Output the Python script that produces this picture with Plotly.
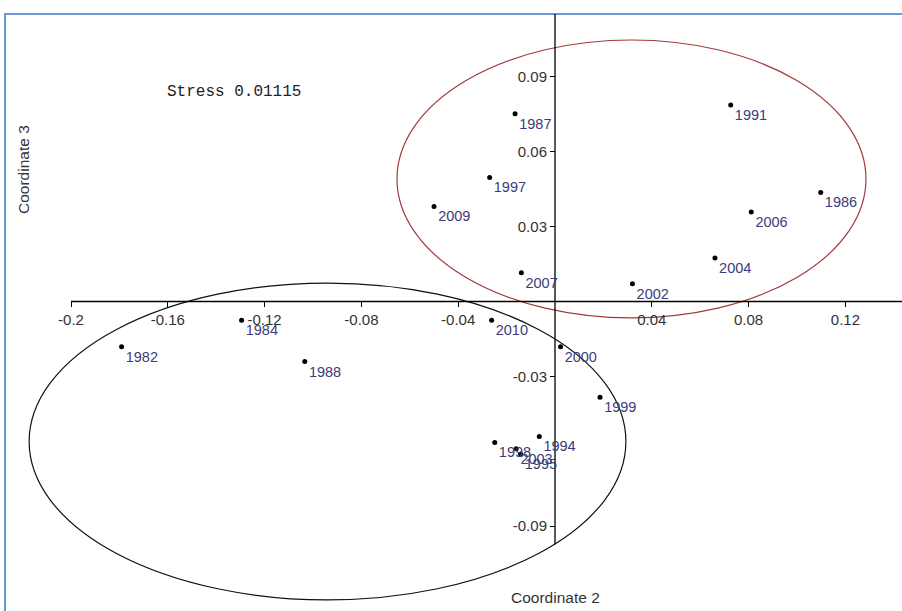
import plotly.graph_objects as go

# ---- data (Coordinate 2, Coordinate 3) ----
years = ["1991", "1986", "2006", "1987", "1997", "2009", "2007", "2002",
         "2010", "2000", "1982", "1984", "1988", "1999", "1998", "1994",
         "2003", "1995", "2004"]
coord2 = [0.0726, 0.1098, 0.0811, -0.0165, -0.0270, -0.0500, -0.0139, 0.0320,
          -0.0262, 0.0023, -0.1791, -0.1295, -0.1034, 0.0186, -0.0249, -0.0065,
          -0.0160, -0.0142, 0.0661]
coord3 = [0.0788, 0.0437, 0.0359, 0.0752, 0.0497, 0.0381, 0.0115, 0.0071,
          -0.0075, -0.0181, -0.0181, -0.0075, -0.0241, -0.0384, -0.0565, -0.0541,
          -0.0590, -0.0612, 0.0174]

x_ticks = [-0.2, -0.16, -0.12, -0.08, -0.04, 0.04, 0.08, 0.12]
x_tick_text = ["-0.2", "-0.16", "-0.12", "-0.08", "-0.04", "0.04", "0.08", "0.12"]
y_ticks = [0.09, 0.06, 0.03, -0.03, -0.09]
y_tick_text = ["0.09", "0.06", "0.03", "-0.03", "-0.09"]

# group ellipses: (center x, center y, radius x, radius y)
red_ellipse = (0.0316, 0.0491, 0.0969, 0.0557)
black_ellipse = (-0.0940, -0.0561, 0.1233, 0.0635)

stress_text = "Stress 0.01115"

# ---- view ----
W, H = 902, 611
x_range = [-0.22934, 0.14339]
y_range = [-0.12405, 0.12084]
x_axis_start = -0.2
y_axis_bottom = -0.0973
y_axis_top = 0.1152

label_color = "#3c3c78"
tick_font = dict(family="Liberation Sans, Arial, sans-serif", size=15, color="#333333")
title_font = dict(family="Liberation Sans, Arial, sans-serif", size=15.5, color="#333333")

fig = go.Figure()

# points
fig.add_trace(go.Scatter(
    x=coord2, y=coord3, mode="markers",
    marker=dict(color="black", size=5),
    hoverinfo="skip", showlegend=False, cliponaxis=False,
))
# year labels drawn on top of the points (invisible markers set the text offset)
fig.add_trace(go.Scatter(
    x=coord2, y=coord3, text=years, mode="markers+text",
    textposition="bottom right",
    marker=dict(size=5, color="rgba(0,0,0,0)"),
    textfont=dict(family="Liberation Sans, Arial, sans-serif", size=14.5, color=label_color),
    hoverinfo="skip", showlegend=False, cliponaxis=False,
))

shapes = []
for (cx, cy, rx, ry), col in [(red_ellipse, "#a33a3a"), (black_ellipse, "#111111")]:
    shapes.append(dict(type="circle", xref="x", yref="y",
                       x0=cx - rx, x1=cx + rx, y0=cy - ry, y1=cy + ry,
                       line=dict(color=col, width=1.2), layer="below"))
# axis lines through origin
shapes.append(dict(type="line", xref="x", yref="y", x0=x_axis_start, x1=x_range[1],
                   y0=0, y1=0, line=dict(color="black", width=1.3), layer="below"))
shapes.append(dict(type="line", xref="x", yref="y", x0=0, x1=0,
                   y0=y_axis_bottom, y1=y_axis_top, line=dict(color="black", width=1.3), layer="below"))
# window frame
shapes.append(dict(type="rect", xref="paper", yref="paper",
                   x0=5 / W, x1=1.2, y0=-0.2, y1=1 - 14 / H,
                   line=dict(color="#6c98d6", width=2), layer="below"))

x_pos = (0 - y_range[0]) / (y_range[1] - y_range[0])
y_pos = (0 - x_range[0]) / (x_range[1] - x_range[0])

fig.update_layout(
    width=W, height=H,
    margin=dict(l=0, r=0, t=0, b=0),
    paper_bgcolor="white", plot_bgcolor="white",
    shapes=shapes,
    xaxis=dict(range=x_range, anchor="free", position=x_pos, showgrid=False,
               zeroline=False, showline=False, ticks="outside", ticklen=5,
               tickcolor="black", tickwidth=1.2, tickvals=x_ticks, ticktext=x_tick_text,
               tickfont=tick_font, fixedrange=True),
    yaxis=dict(range=y_range, anchor="free", position=y_pos, showgrid=False,
               zeroline=False, showline=False, ticks="outside", ticklen=5,
               tickcolor="black", tickwidth=1.2, tickvals=y_ticks, ticktext=y_tick_text,
               tickfont=tick_font, fixedrange=True),
    annotations=[
        dict(text=stress_text, xref="paper", yref="paper", x=165 / W, y=1 - 92 / H,
             xanchor="left", yanchor="middle", showarrow=False,
             font=dict(family="Liberation Mono, Courier New, monospace", size=16, color="#222222")),
        dict(text="Coordinate 2", xref="paper", yref="paper", x=555 / W, y=1 - 597 / H,
             xanchor="center", yanchor="middle", showarrow=False, font=title_font),
        dict(text="Coordinate 3", xref="paper", yref="paper", x=24 / W, y=1 - 170 / H,
             xanchor="center", yanchor="middle", showarrow=False, textangle=-90,
             font=title_font),
    ],
)

fig.write_html("out.html", config={"displayModeBar": False},
               post_script="document.body.style.margin='0';document.body.style.overflow='hidden';")
